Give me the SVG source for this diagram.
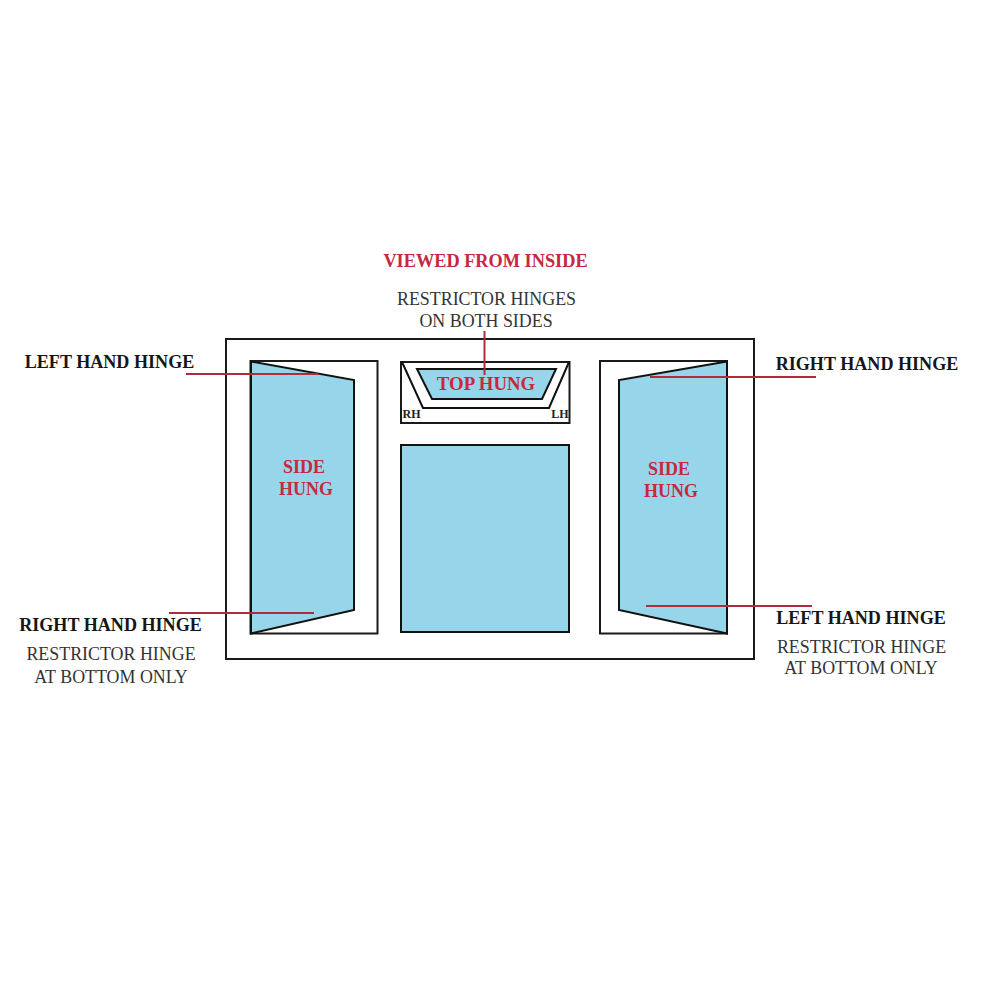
<svg xmlns="http://www.w3.org/2000/svg" width="1000" height="1000" viewBox="0 0 1000 1000">
<style>
.frame{fill:#fff;stroke:#1a1a1a;stroke-width:2}
.sash{fill:#97d6ea;stroke:#111;stroke-width:2;stroke-linejoin:miter}
.lead{stroke:#b5293f;stroke-width:2;fill:none}
text{font-family:"Liberation Serif","Times New Roman",serif;text-anchor:middle}
.b{font-weight:bold;fill:#161616;font-size:18.1px}
.n{fill:#333;font-size:17.9px}
.r{font-weight:bold;fill:#c5283f;font-size:18px}
.s{font-weight:bold;fill:#222;font-size:12px}
</style>
<rect width="1000" height="1000" fill="#fff"/>
<g id="outer-frame"><rect class="frame" x="226" y="339" width="528" height="320"/></g>
<g id="left-window">
<rect class="frame" x="250.500" y="361" width="127" height="272.500"/>
<polygon class="sash" points="251,361.500 354,380 354,610 251,633.500"/>
<text class="r" x="304" y="473">SIDE</text>
<text class="r" x="306" y="494.500">HUNG</text>
</g>
<g id="top-window">
<rect class="frame" x="401" y="362" width="168.500" height="61"/>
<polyline fill="none" stroke="#111" stroke-width="2" points="402,362 423,408 549,408 569,362"/>
<polygon class="sash" points="417,369 556,369 542,399 432,399"/>
<text class="r" x="486" y="390" style="font-size:18.800px">TOP HUNG</text>
<text class="s" x="411.500" y="418">RH</text>
<text class="s" x="560" y="417.500">LH</text>
</g>
<g id="center-pane"><rect class="sash" x="401" y="445" width="168" height="187"/></g>
<g id="right-window">
<rect class="frame" x="600" y="361" width="127" height="272.500"/>
<polygon class="sash" points="727,361.500 619,380 619,610 727,633.500"/>
<text class="r" x="669" y="475">SIDE</text>
<text class="r" x="671" y="496.500">HUNG</text>
</g>
<g id="connectors">
<line class="lead" x1="186" y1="374" x2="318" y2="374"/>
<line class="lead" x1="169" y1="613" x2="314" y2="613"/>
<line class="lead" x1="484.500" y1="331" x2="484.500" y2="375"/>
<line class="lead" x1="650" y1="377" x2="816" y2="377"/>
<line class="lead" x1="646" y1="606" x2="812" y2="606"/>
</g>
<g id="labels">
<text class="r" x="485.500" y="267" style="font-size:18.300px">VIEWED FROM INSIDE</text>
<text class="n" x="486.500" y="305">RESTRICTOR HINGES</text>
<text class="n" x="486" y="327">ON BOTH SIDES</text>
<text class="b" x="109.500" y="368">LEFT HAND HINGE</text>
<text class="b" x="110.500" y="631">RIGHT HAND HINGE</text>
<text class="n" x="111" y="660">RESTRICTOR HINGE</text>
<text class="n" x="111" y="683">AT BOTTOM ONLY</text>
<text class="b" x="867" y="370">RIGHT HAND HINGE</text>
<text class="b" x="861" y="624">LEFT HAND HINGE</text>
<text class="n" x="861.500" y="653">RESTRICTOR HINGE</text>
<text class="n" x="861" y="674">AT BOTTOM ONLY</text>
</g>
</svg>
